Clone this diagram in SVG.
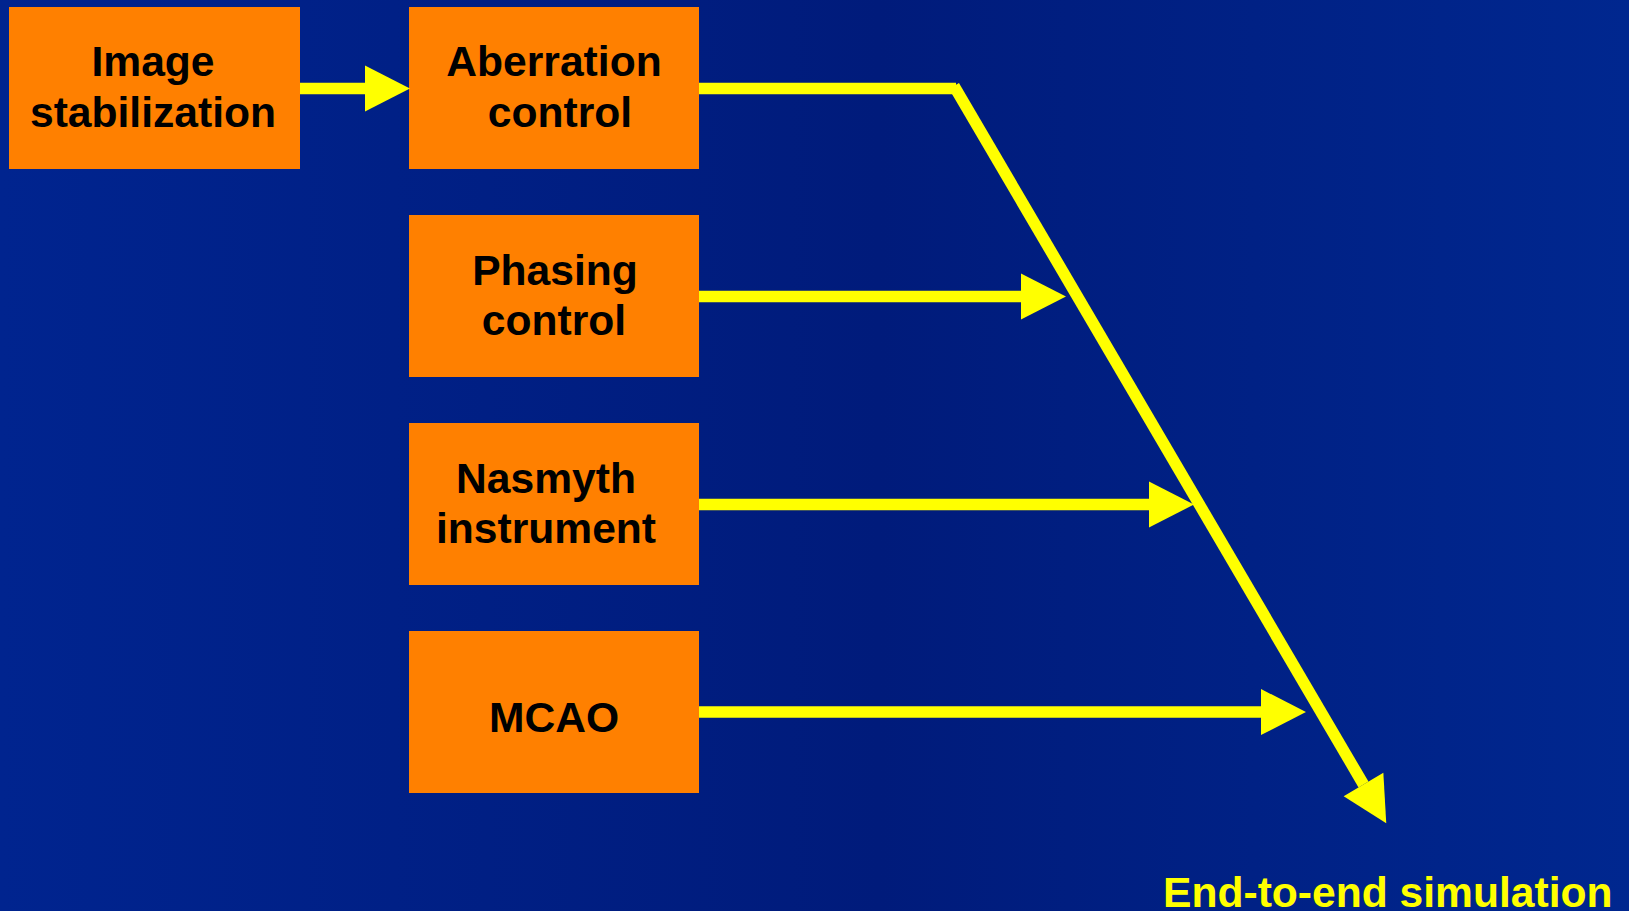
<svg xmlns="http://www.w3.org/2000/svg" width="1629" height="911" viewBox="0 0 1629 911">
  <defs>
    <linearGradient id="bg" x1="0" y1="0" x2="1" y2="0">
      <stop offset="0" stop-color="#00248f"/>
      <stop offset="0.54" stop-color="#001b7b"/>
      <stop offset="1" stop-color="#00278f"/>
    </linearGradient>
    <marker id="arrow" markerUnits="userSpaceOnUse" markerWidth="46" markerHeight="48" viewBox="0 -23 45 46" refX="0" refY="0" orient="auto" overflow="visible">
      <path d="M0,-22.5 L44,0 L0,22.5 Z" fill="#ffff00"/>
    </marker>
    <style>
      .box { fill: #ff8000; }
      .lbl { font-family: "Liberation Sans", Arial, sans-serif; font-weight: bold; font-size: 42.6px; fill: #000000; text-anchor: middle; }
      .conn { stroke: #ffff00; stroke-width: 11.5; fill: none; stroke-linecap: butt; }
      .out { font-family: "Liberation Sans", Arial, sans-serif; font-weight: bold; font-size: 42.6px; fill: #ffff00; }
    </style>
  </defs>
  <rect x="0" y="0" width="1629" height="911" fill="url(#bg)"/>

  <g id="node-image-stabilization">
    <rect class="box" x="9" y="7" width="291" height="162"/>
    <text class="lbl" x="153" y="76">Image</text>
    <text class="lbl" x="153" y="127">stabilization</text>
  </g>
  <g id="node-aberration-control">
    <rect class="box" x="409" y="7" width="290" height="162"/>
    <text class="lbl" x="554" y="76">Aberration</text>
    <text class="lbl" x="560" y="127">control</text>
  </g>
  <g id="node-phasing-control">
    <rect class="box" x="409" y="215" width="290" height="162"/>
    <text class="lbl" x="555" y="285">Phasing</text>
    <text class="lbl" x="554" y="335">control</text>
  </g>
  <g id="node-nasmyth-instrument">
    <rect class="box" x="409" y="423" width="290" height="162"/>
    <text class="lbl" x="546" y="493">Nasmyth</text>
    <text class="lbl" x="546" y="543">instrument</text>
  </g>
  <g id="node-mcao">
    <rect class="box" x="409" y="631" width="290" height="162"/>
    <text class="lbl" x="554" y="732">MCAO</text>
  </g>

  <g id="connectors">
    <line class="conn" x1="300" y1="88.5" x2="365" y2="88.5" marker-end="url(#arrow)"/>
    <line class="conn" x1="699" y1="88.5" x2="956" y2="88.5"/>
    <line class="conn" x1="954" y1="86" x2="1363.5" y2="784.5" marker-end="url(#arrow)"/>
    <line class="conn" x1="699" y1="296.5" x2="1021" y2="296.5" marker-end="url(#arrow)"/>
    <line class="conn" x1="699" y1="504.5" x2="1149" y2="504.5" marker-end="url(#arrow)"/>
    <line class="conn" x1="699" y1="712" x2="1261" y2="712" marker-end="url(#arrow)"/>
  </g>

  <g id="node-end-to-end">
    <text class="out" x="1163" y="907">End-to-end simulation</text>
  </g>
</svg>
